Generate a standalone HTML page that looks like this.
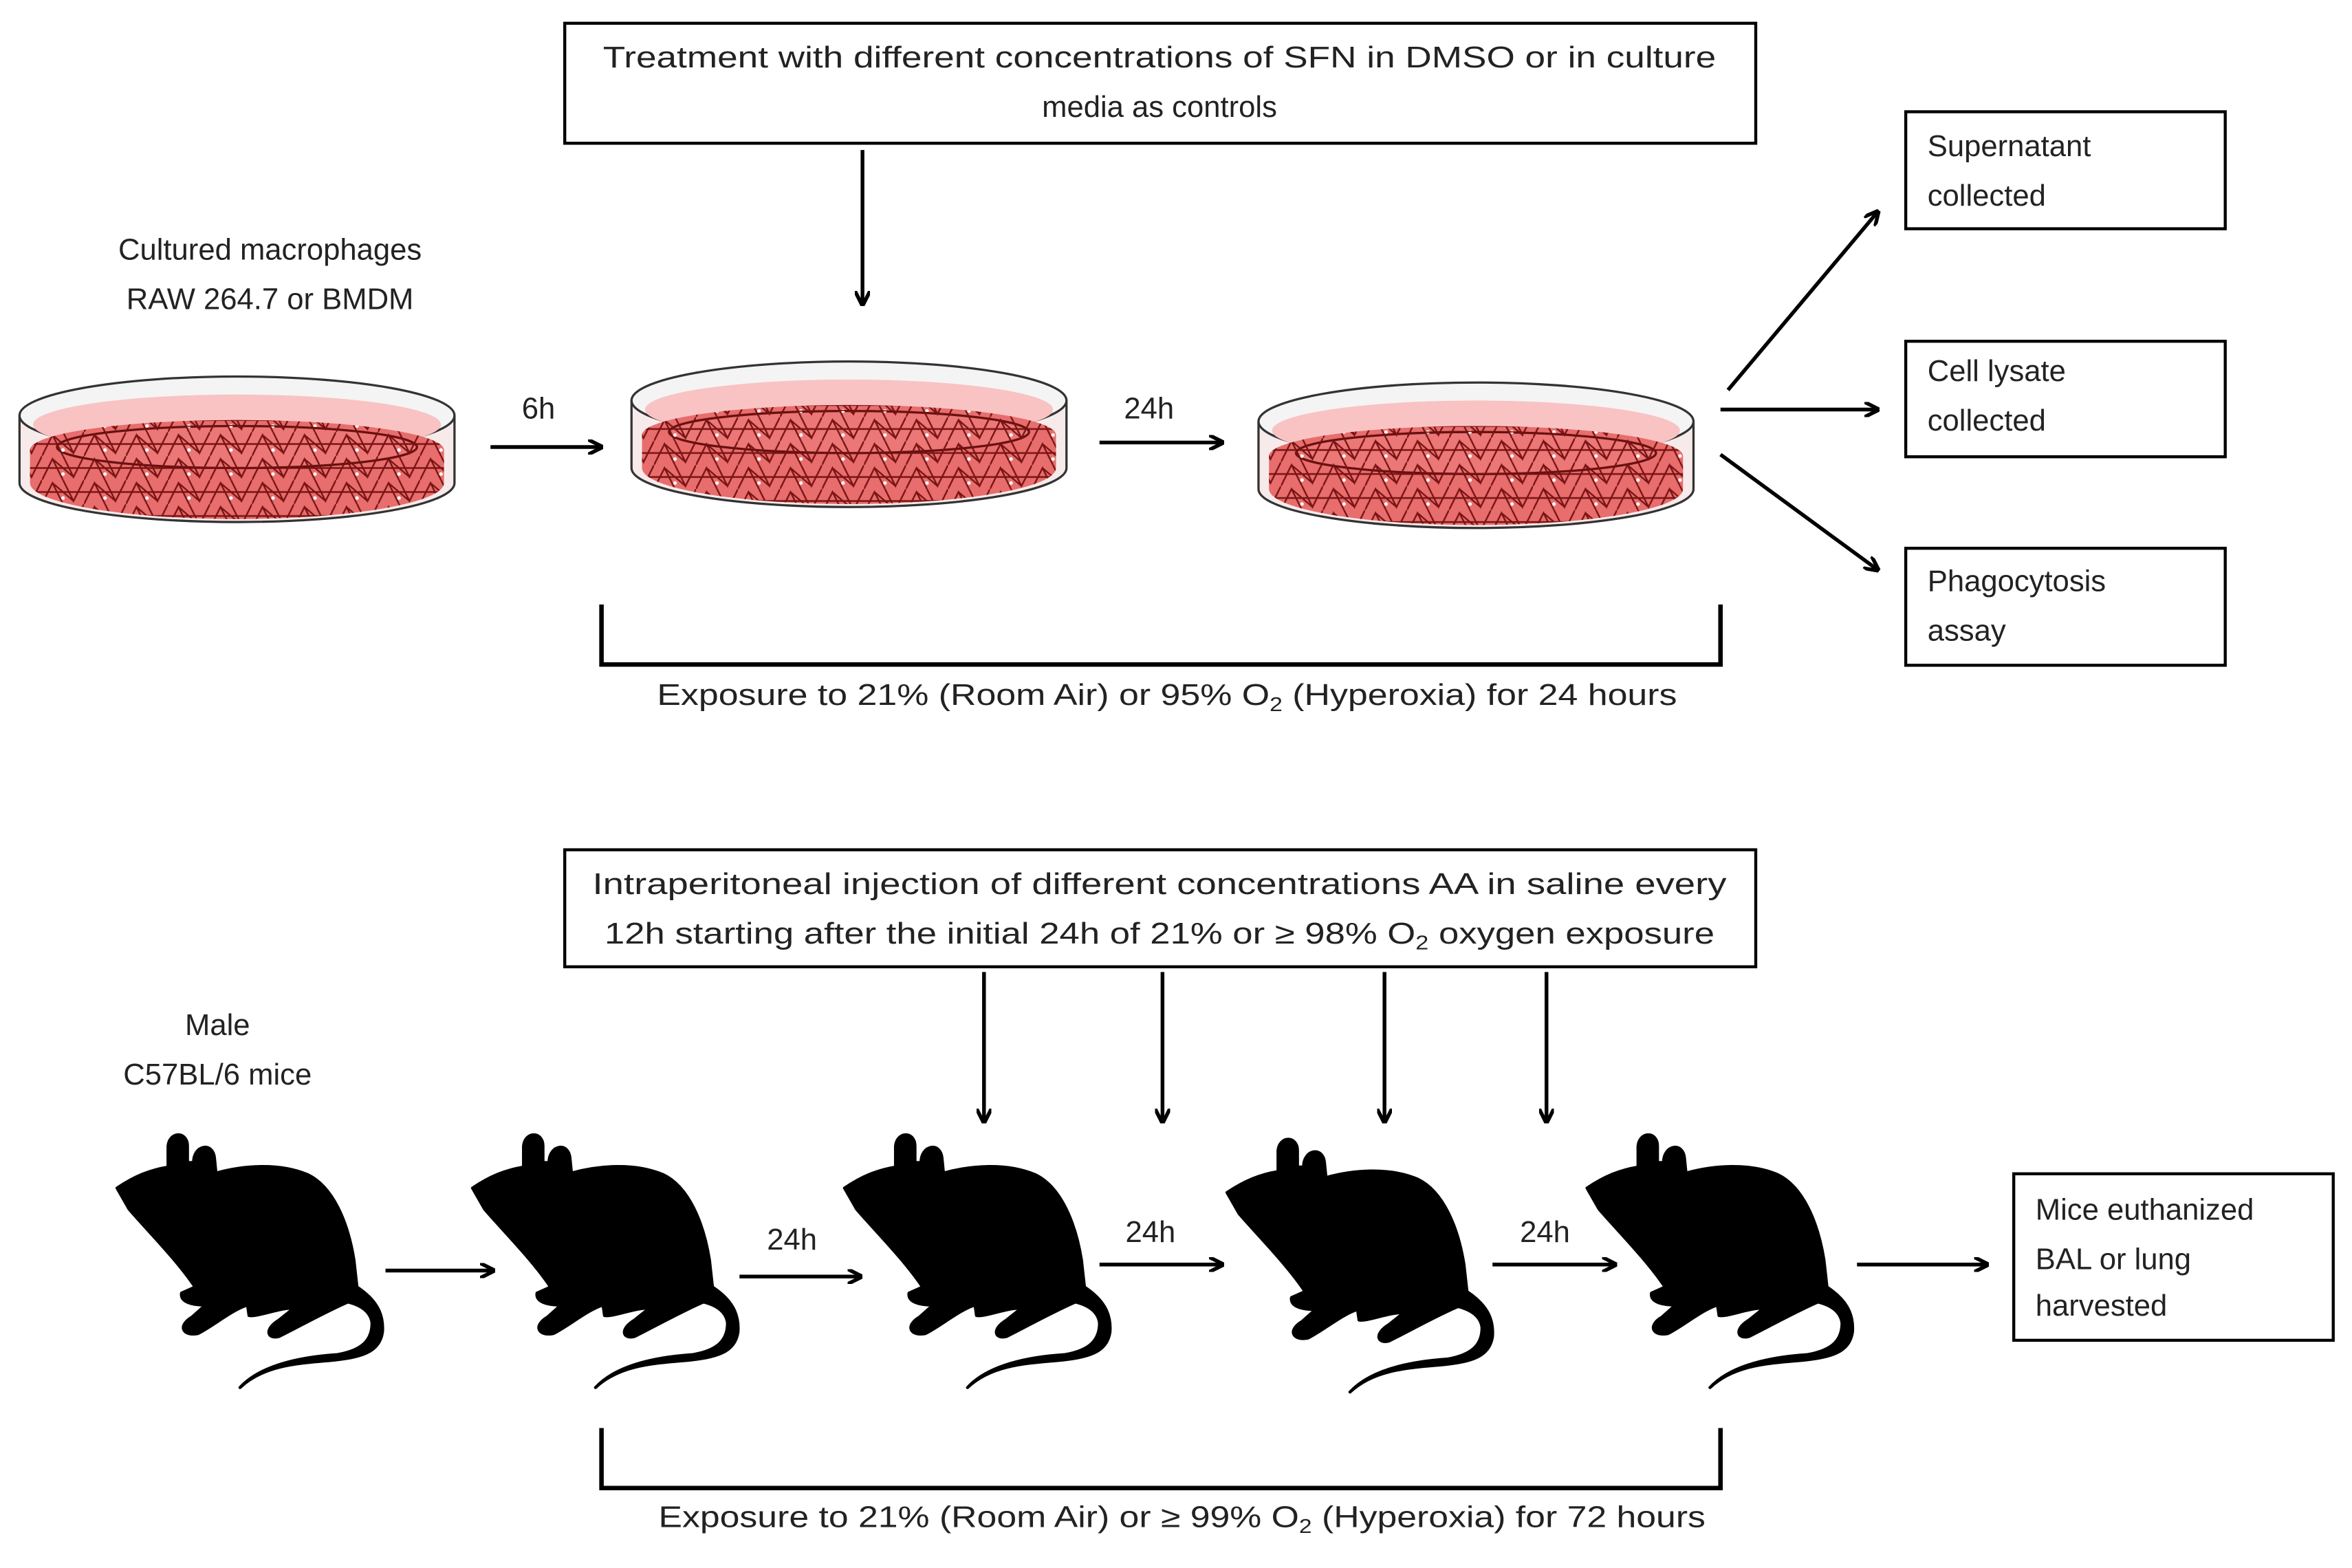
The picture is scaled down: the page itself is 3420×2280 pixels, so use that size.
<!DOCTYPE html>
<html><head><meta charset="utf-8"><style>
html,body{margin:0;padding:0;background:#fff;}
svg{display:block;}
text{font-family:"Liberation Sans",sans-serif;font-size:20px;fill:#222;}
</style></head><body>
<svg width="3420" height="2280" viewBox="0 0 1568 1045.3" preserveAspectRatio="none" xmlns="http://www.w3.org/2000/svg">
<defs>
<marker id="ah" markerWidth="10" markerHeight="10" refX="9" refY="5" orient="auto" markerUnits="userSpaceOnUse">
<path d="M0,0 L10,5 L0,10" fill="none" stroke="#000" stroke-width="2.5"/>
</marker>
<pattern id="mesh" width="28" height="16" patternUnits="userSpaceOnUse">
<path d="M0,16 L7,2 L14,16 M14,0 L21,14 L28,0 M0,8 L28,8 M7,2 L21,14" stroke="#7a1414" stroke-width="1.1" fill="none"/>
<circle cx="14" cy="12" r="1.2" fill="#fff"/>
</pattern>
<g id="dish">
<path d="M13,277 L13,322 A145,26 0 0 0 303,322 L303,277 Z" fill="#f7eaea"/>
<ellipse cx="158" cy="277" rx="145" ry="26" fill="#f4f4f4" stroke="#333" stroke-width="1.5"/>
<ellipse cx="158" cy="283" rx="136" ry="20" fill="#f9c3c3"/>
<path d="M20,300 L20,322 A138,24 0 0 0 296,322 L296,300 A138,20 0 0 0 20,300 Z" fill="#e86d6d"/>
<path d="M20,300 L20,322 A138,24 0 0 0 296,322 L296,300 A138,20 0 0 0 20,300 Z" fill="url(#mesh)"/>
<ellipse cx="158" cy="298" rx="120" ry="14" fill="#ec7777" stroke="#6a1010" stroke-width="1.5"/>
<ellipse cx="158" cy="298" rx="120" ry="14" fill="url(#mesh)"/>
<path d="M13,277 L13,322 A145,26 0 0 0 303,322 L303,277" fill="none" stroke="#333" stroke-width="1.5"/>
</g>
<g id="mouse">
<path d="M78,792 C90,784 100,780 112,778 L112,764 C113,754 125,754 125,764 L125,775 L129,775 C129,763 142,761 143,772 L144,782 C162,777 186,775 205,783 C222,791 232,815 236,840 L238,858 C250,866 256,875 255,888 C253,902 240,905 220,907 C195,909 175,911 160,925 C172,912 195,905 225,903 C242,900 248,893 248,882 C247,874 240,870 232,868 C218,874 200,884 186,891 C178,893 176,886 186,880 L196,872 C185,872 172,878 166,877 L165,870 C155,873 142,884 132,889 C122,891 118,884 128,878 L137,870 C128,870 120,868 121,862 L130,858 C118,840 98,820 86,806 Z" fill="#000" stroke="#000" stroke-width="2" stroke-linejoin="round"/>
</g>
</defs>

<rect width="1568" height="1045.3" fill="#fff"/>

<rect x="376.5" y="15.5" width="794" height="80" fill="#fff" stroke="#000" stroke-width="2"/>
<text x="773" y="45" text-anchor="middle" textLength="742" lengthAdjust="spacingAndGlyphs">Treatment with different concentrations of SFN in DMSO or in culture</text>
<text x="773" y="78" text-anchor="middle">media as controls</text>
<line x1="575" y1="100" x2="575" y2="203" stroke="#000" stroke-width="2.5" marker-end="url(#ah)"/>

<text x="180" y="173" text-anchor="middle">Cultured macrophages</text>
<text x="180" y="206" text-anchor="middle">RAW 264.7 or BMDM</text>

<use href="#dish"/>
<use href="#dish" transform="translate(408,-10)"/>
<use href="#dish" transform="translate(826,4)"/>

<text x="359" y="279" text-anchor="middle">6h</text>
<line x1="327" y1="298" x2="401" y2="298" stroke="#000" stroke-width="2.5" marker-end="url(#ah)"/>
<text x="766" y="279" text-anchor="middle">24h</text>
<line x1="733" y1="295" x2="815" y2="295" stroke="#000" stroke-width="2.5" marker-end="url(#ah)"/>

<line x1="1152" y1="260" x2="1252" y2="141" stroke="#000" stroke-width="2.5" marker-end="url(#ah)"/>
<line x1="1147" y1="273" x2="1252" y2="273" stroke="#000" stroke-width="2.5" marker-end="url(#ah)"/>
<line x1="1147" y1="303" x2="1252" y2="380" stroke="#000" stroke-width="2.5" marker-end="url(#ah)"/>

<rect x="1270.5" y="74.5" width="213" height="78" fill="#fff" stroke="#000" stroke-width="2"/>
<text x="1285" y="104">Supernatant</text><text x="1285" y="137">collected</text>
<rect x="1270.5" y="227.5" width="213" height="77" fill="#fff" stroke="#000" stroke-width="2"/>
<text x="1285" y="254">Cell lysate</text><text x="1285" y="287">collected</text>
<rect x="1270.5" y="365.5" width="213" height="78" fill="#fff" stroke="#000" stroke-width="2"/>
<text x="1285" y="394">Phagocytosis</text><text x="1285" y="427">assay</text>

<path d="M401,403 L401,443 L1147,443 L1147,403" fill="none" stroke="#000" stroke-width="3"/>
<text x="778" y="470" text-anchor="middle" textLength="680" lengthAdjust="spacingAndGlyphs">Exposure to 21% (Room Air) or 95% O<tspan font-size="13" dy="4">2</tspan><tspan dy="-4"> (Hyperoxia) for 24 hours</tspan></text>

<rect x="376.5" y="566.5" width="794" height="78" fill="#fff" stroke="#000" stroke-width="2"/>
<text x="773" y="596" text-anchor="middle" textLength="756" lengthAdjust="spacingAndGlyphs">Intraperitoneal injection of different concentrations  AA in saline every</text>
<text x="773" y="629" text-anchor="middle" textLength="740" lengthAdjust="spacingAndGlyphs">12h starting after the initial 24h of 21% or ≥ 98% O<tspan font-size="13" dy="4">2</tspan><tspan dy="-4"> oxygen exposure</tspan></text>
<line x1="656" y1="648" x2="656" y2="748" stroke="#000" stroke-width="2.5" marker-end="url(#ah)"/>
<line x1="775" y1="648" x2="775" y2="748" stroke="#000" stroke-width="2.5" marker-end="url(#ah)"/>
<line x1="923" y1="648" x2="923" y2="748" stroke="#000" stroke-width="2.5" marker-end="url(#ah)"/>
<line x1="1031" y1="648" x2="1031" y2="748" stroke="#000" stroke-width="2.5" marker-end="url(#ah)"/>

<text x="145" y="690" text-anchor="middle">Male</text>
<text x="145" y="723" text-anchor="middle">C57BL/6 mice</text>

<use href="#mouse"/>
<use href="#mouse" transform="translate(237,0)"/>
<use href="#mouse" transform="translate(485,0)"/>
<use href="#mouse" transform="translate(740,3)"/>
<use href="#mouse" transform="translate(980,0)"/>

<line x1="257" y1="847" x2="329" y2="847" stroke="#000" stroke-width="2.5" marker-end="url(#ah)"/>
<text x="528" y="833" text-anchor="middle">24h</text>
<line x1="493" y1="851" x2="574" y2="851" stroke="#000" stroke-width="2.5" marker-end="url(#ah)"/>
<text x="767" y="828" text-anchor="middle">24h</text>
<line x1="733" y1="843" x2="815" y2="843" stroke="#000" stroke-width="2.5" marker-end="url(#ah)"/>
<text x="1030" y="828" text-anchor="middle">24h</text>
<line x1="995" y1="843" x2="1077" y2="843" stroke="#000" stroke-width="2.5" marker-end="url(#ah)"/>
<line x1="1238" y1="843" x2="1325" y2="843" stroke="#000" stroke-width="2.5" marker-end="url(#ah)"/>

<rect x="1342.5" y="782.5" width="213" height="111" fill="#fff" stroke="#000" stroke-width="2"/>
<text x="1357" y="813">Mice euthanized</text>
<text x="1357" y="846">BAL or lung</text>
<text x="1357" y="877">harvested</text>

<path d="M401,952 L401,992 L1147,992 L1147,952" fill="none" stroke="#000" stroke-width="3"/>
<text x="788" y="1018" text-anchor="middle" textLength="698" lengthAdjust="spacingAndGlyphs">Exposure to 21% (Room Air) or ≥ 99% O<tspan font-size="13" dy="4">2</tspan><tspan dy="-4"> (Hyperoxia) for 72 hours</tspan></text>
</svg>
</body></html>
